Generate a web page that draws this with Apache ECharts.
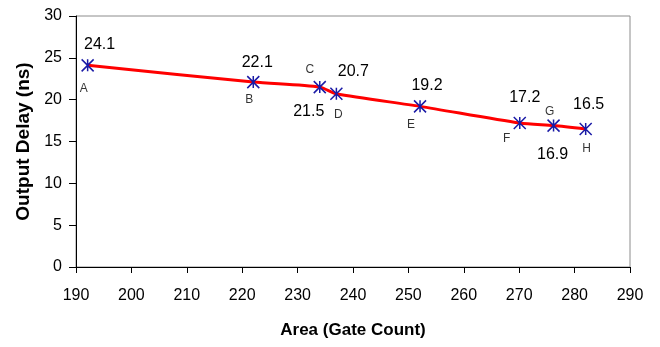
<!DOCTYPE html>
<html>
<head>
<meta charset="utf-8">
<script src="https://cdn.jsdelivr.net/npm/echarts@6/dist/echarts.min.js"></script>
<style>
html,body{margin:0;padding:0;background:#fff;}
#c{width:660px;height:347px;}
</style>
</head>
<body>
<div id="c"></div>
<script>
// Data
const pointNames = ['A','B','C','D','E','F','G','H'];
const areaValues = [192.1, 222.0, 234.0, 237.0, 252.1, 270.1, 276.2, 282.0];
const delayValues = [24.1, 22.1, 21.5, 20.7, 19.2, 17.2, 16.9, 16.5];
const xTickMin = 190, xTickMax = 290, xTickStep = 10;
const yTickMin = 0, yTickMax = 30, yTickStep = 5;
const xTitle = 'Area (Gate Count)';
const yTitle = 'Output Delay (ns)';

// Label layout (pixel offsets from each point)
const valueLabelOffsets = [[12,-21],[4,-20],[-11,24],[17,-22],[7,-21],[5,-25],[-1,29],[3,-24]];
const nameLabelOffsets = [[-4,23],[-4,18],[-10,-17],[2,21],[-9,18],[-13,16],[-4,-14],[1,20]];

const FONT = '"Liberation Sans", Arial, sans-serif';
const asterisk = 'path://M0,0 L10,10 M10,0 L0,10 M5,0 L5,10';

const lineData = areaValues.map((x, i) => ({
  value: [x, delayValues[i]],
  label: { offset: valueLabelOffsets[i] }
}));
const nameData = areaValues.map((x, i) => ({
  value: [x, delayValues[i], pointNames[i]],
  label: { offset: nameLabelOffsets[i] }
}));

const chart = echarts.init(document.getElementById('c'), null, {renderer: 'canvas'});
chart.setOption({
  animation: false,
  backgroundColor: '#fff',
  grid: {
    left: 76, right: 30, top: 16, bottom: 80,
    show: true, borderColor: '#8c8c8c', borderWidth: 1, backgroundColor: 'transparent'
  },
  xAxis: {
    type: 'value', min: xTickMin, max: xTickMax, interval: xTickStep,
    name: xTitle, nameLocation: 'middle', nameGap: 55,
    nameTextStyle: { fontFamily: FONT, fontWeight: 'bold', fontSize: 17, color: '#000' },
    axisLine: { show: true, onZero: false, lineStyle: { color: '#000', width: 1 } },
    axisTick: { show: true, length: 6, inside: false, lineStyle: { color: '#000' } },
    axisLabel: { fontFamily: FONT, fontSize: 16, color: '#000', margin: 21 },
    splitLine: { show: false }
  },
  yAxis: {
    type: 'value', min: yTickMin, max: yTickMax, interval: yTickStep,
    name: yTitle, nameLocation: 'middle', nameGap: 41, nameRotate: 90,
    nameTextStyle: { fontFamily: FONT, fontWeight: 'bold', fontSize: 19, color: '#000' },
    axisLine: { show: true, onZero: false, lineStyle: { color: '#000', width: 1 } },
    axisTick: { show: true, length: 7, inside: false, lineStyle: { color: '#000' } },
    axisLabel: { fontFamily: FONT, fontSize: 16, color: '#000', margin: 14 },
    splitLine: { show: false }
  },
  series: [
    {
      type: 'line',
      data: lineData,
      smooth: 0.25,
      lineStyle: { color: '#ff0000', width: 3 },
      symbol: asterisk,
      symbolSize: 12,
      showSymbol: true,
      itemStyle: { color: 'none', borderColor: '#1a1aa6', borderWidth: 1.5 },
      label: {
        show: true, position: 'inside', align: 'center', verticalAlign: 'middle',
        fontFamily: FONT, fontSize: 16, color: '#000',
        formatter: p => p.value[1].toFixed(1)
      },
      z: 3
    },
    {
      type: 'scatter',
      data: nameData,
      symbolSize: 1,
      itemStyle: { color: 'transparent' },
      label: {
        show: true, position: 'inside', align: 'center', verticalAlign: 'middle',
        fontFamily: FONT, fontSize: 12, color: '#000',
        formatter: p => p.value[2]
      },
      z: 4
    }
  ]
});
</script>
</body>
</html>
